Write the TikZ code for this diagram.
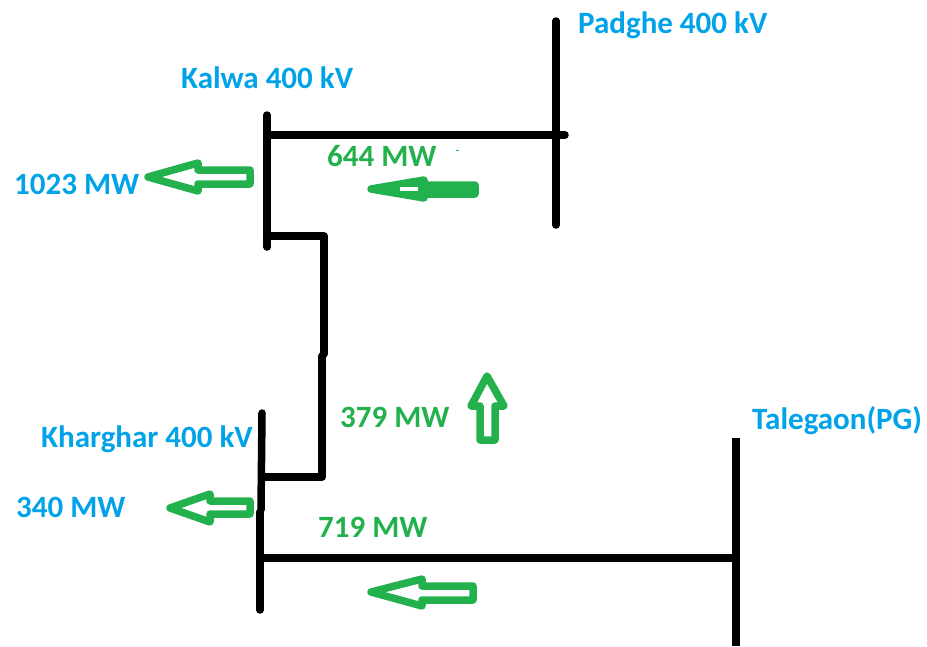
\documentclass[tikz,border=0pt]{standalone}
\usepackage{fontspec}
\setmainfont{Carlito}[BoldFont={Carlito Bold}]
\definecolor{lblue}{RGB}{0,162,232}
\definecolor{lgreen}{RGB}{34,177,76}
\tikzset{
 bus/.style={line width=7.5pt,line cap=round,line join=round,black},
 flow/.style={line width=7.5pt,line join=round,lgreen},
 bl/.style={font=\bfseries\fontsize{31}{34}\selectfont,text=lblue,inner sep=0pt},
 gl/.style={font=\bfseries\fontsize{31}{34}\selectfont,text=lgreen,inner sep=0pt}
}
\begin{document}
\begin{tikzpicture}[x=1pt,y=-1pt]
\useasboundingbox (0,0) rectangle (927,646);
\fill[white] (0,0) rectangle (927,646);
% bus end points
\coordinate (padT) at (556,21);
\coordinate (padB) at (556,225);
\coordinate (kalT) at (267,115);
\coordinate (kalB) at (267,247);
\coordinate (khaT) at (262,413);
\coordinate (khaB) at (261,510);
\coordinate (kh2T) at (260,512);
\coordinate (kh2B) at (260,610);
\coordinate (talT) at (736,438);
\coordinate (talB) at (736,646);
\coordinate (padJ) at (565,135);
\coordinate (kalJ) at (267,135);
\coordinate (kalK) at (267,236);
\coordinate (kc1) at (324,236);
\coordinate (kc2) at (324,354);
\coordinate (kc3) at (322,356);
\coordinate (kc4) at (322,477);
\coordinate (khaJ) at (262,477);
\coordinate (tlJ) at (260,558);
\coordinate (tlE) at (736,558);
\draw[bus] (padT) -- (padB);
\draw[bus] (kalT) -- (kalB);
\draw[bus] (khaT) -- (khaB);
\draw[bus] (kh2T) -- (kh2B);
\draw[bus,line cap=butt] (talT) -- (talB);
\draw[bus] (kalJ) -- (padJ);
\draw[bus] (kalK) -- (kc1) -- (kc2);
\draw[bus] (kc3) -- (kc4) -- (khaJ);
\draw[bus] (tlJ) -- (tlE);
% flow arrows
\draw[flow] (250,170) -- (198,170) -- (198,163) -- (148,177) -- (198,191) -- (198,184) -- (250,184) -- cycle;
\draw[flow,fill=lgreen] (475,185) -- (424,185) -- (424,180) -- (371,189) -- (424,198) -- (424,194) -- (475,194) -- cycle;
\fill[white] (400,187) rectangle (418,191);
\draw[flow] (250,501) -- (210,501) -- (210,494) -- (170,508) -- (210,522) -- (210,514) -- (250,514) -- cycle;
\draw[flow] (473,586) -- (422,586) -- (422,579) -- (371,592) -- (422,606) -- (422,600) -- (473,600) -- cycle;
\draw[flow] (480,406) -- (480,440) -- (495,440) -- (495,406) -- (504,406) -- (487,376) -- (471,406) -- cycle;
\fill[lgreen] (456,149.5) rectangle (459,151);
% labels
\node[bl,anchor=base west] (kal) at (181,88) {Kalwa 400 kV};
\node[bl,anchor=base west] (pad) at (578,33) {Padghe 400 kV};
\node[bl,anchor=base west] (kha) at (41,447) {Kharghar 400 kV};
\node[bl,anchor=base west] (tal) at (752,429) {Talegaon(PG)};
\node[bl,anchor=base west] (m1) at (14,194) {1023 MW};
\node[bl,anchor=base west] (m2) at (16,517) {340 MW};
\node[gl,anchor=base west] (g1) at (327,166) {644 MW};
\node[gl,anchor=base west] (g2) at (340,427) {379 MW};
\node[gl,anchor=base west] (g3) at (318,537) {719 MW};
\end{tikzpicture}
\end{document}
